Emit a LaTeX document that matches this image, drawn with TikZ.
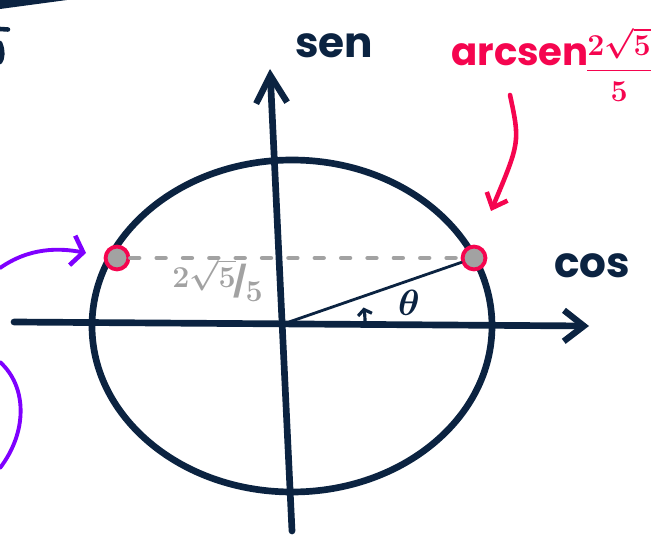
\documentclass[tikz,border=0pt]{standalone}
\usepackage{amsmath,bm}
\usepackage{fontspec}
\setmainfont{Poppins}
\usetikzlibrary{arrows.meta}
\definecolor{navy}{HTML}{0B2341}
\definecolor{rosa}{HTML}{F5054F}
\definecolor{lila}{HTML}{7F00FF}
\definecolor{gris}{HTML}{A2A2A2}
\begin{document}
\begin{tikzpicture}[line cap=round,line join=round,
  eje/.style={navy,line width=3.8pt},
  punto/.style={circle,draw=rosa,fill=gris,line width=2.2pt,inner sep=0pt,minimum size=13pt},
  etiq/.style={navy,font=\fontsize{24}{26}\selectfont\bfseries},
  punta/.style={-{Straight Barb[length=#1,width=0.62cm,line width=3.6pt]}}]
\useasboundingbox (0,0) rectangle (13.06,10.74);
% ejes y circunferencia
\draw[eje] (5.84,4.22) ellipse (4cm and 3.32cm);
\coordinate (xi) at (0.28,4.30);
\coordinate (xf) at (11.78,4.22);
\coordinate (yi) at (5.84,0.12);
\coordinate (yf) at (5.40,9.36);
\coordinate (O) at (5.78,4.30);
\draw[eje,punta=0.4cm] (xi) -- (xf);
\draw[eje,punta=0.55cm] (yi) -- (yf);
\node[etiq] (sen) at (6.68,9.82) {sen};
\node[etiq] (cos) at (11.84,5.42) {cos};
% puntos
\node[punto] (P) at (2.34,5.58) {};
\node[punto] (Q) at (9.48,5.58) {};
\draw[gris,line width=2.6pt,dash pattern=on 5pt off 10pt] (P) -- (Q);
\draw[navy,line width=1.6pt] (O) -- (Q);
\node[gris,font=\fontsize{17}{19}\selectfont\bfseries] (v) at (4.35,5.14)
  {\raisebox{3pt}{$\bm{2\sqrt{5}}$}\kern-1pt/\kern-1pt\raisebox{-5pt}{$\bm{5}$}};
% angulo
\draw[navy,line width=1.8pt,-{Straight Barb[length=3pt,width=8pt]}] (O) ++(1.52,0) arc (0:11:1.52cm);
\node[navy,font=\fontsize{20}{22}\selectfont] (t) at (8.18,4.68) {$\bm{\theta}$};
% arcsen
\node[rosa,font=\fontsize{22}{24}\selectfont\bfseries,anchor=base west] (arc) at (8.9,9.42) {arcsen};
\node[rosa,font=\fontsize{17}{19}\selectfont,anchor=west,inner sep=0pt] (fr) at (11.7,9.46) {$\bm{\dfrac{2\sqrt{5}}{5}}$};
\coordinate (a1) at (10.2,8.84);
\coordinate (a2) at (9.82,6.52);
\draw[rosa,line width=2.6pt,-{Straight Barb[length=0.25cm,width=0.45cm,line width=2.6pt]}] (a1) .. controls (10.4,7.9) .. (a2);
% flechas moradas
\coordinate (m1) at (0,5.38);
\coordinate (m2) at (1.72,5.68);
\draw[lila,line width=2.2pt,-{Straight Barb[length=0.22cm,width=0.6cm,line width=2.6pt]}] (m1) .. controls (0.6,5.8) and (1.2,5.78) .. (m2);
\draw[lila,line width=2.2pt] (0,3.5) .. controls (0.55,3.0) and (0.55,2.1) .. (0,1.38);
% restos arriba a la izquierda
\fill[navy] (0,10.56) -- (1.34,10.74) -- (0,10.74) -- cycle;
\draw[navy,line width=2.6pt] (0,10.16) -- (0.16,10.15);
\draw[navy,line width=2.6pt] (0,9.88) .. controls (0.07,9.72) and (0.05,9.56) .. (0,9.5);
\end{tikzpicture}
\end{document}
